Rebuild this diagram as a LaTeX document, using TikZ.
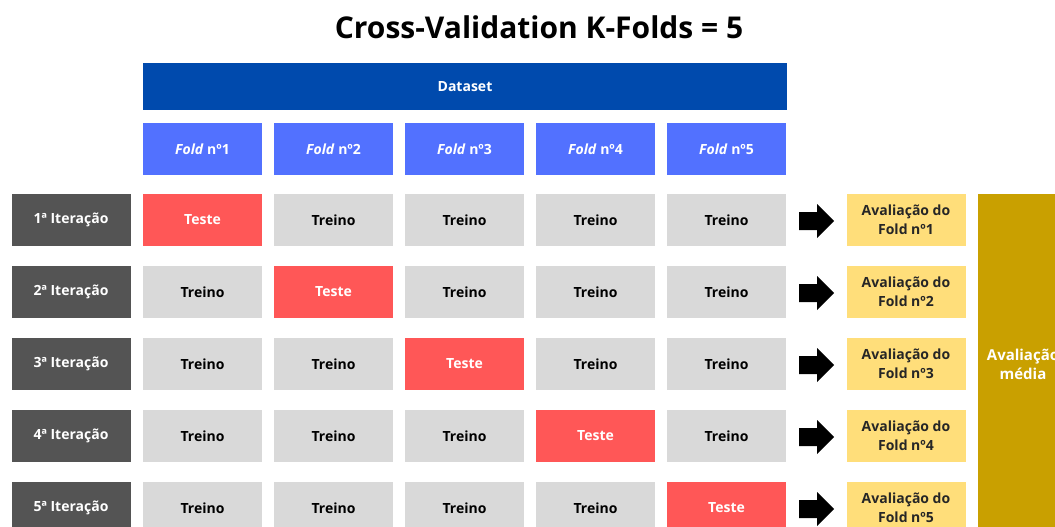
\documentclass[tikz,border=0pt]{standalone}
\usepackage{fontspec}
\setmainfont{Open Sans}
\definecolor{dsblue}{HTML}{004AAD}
\definecolor{foldblue}{HTML}{5271FF}
\definecolor{itergrey}{HTML}{545454}
\definecolor{treinogrey}{HTML}{D9D9D9}
\definecolor{testered}{HTML}{FF5757}
\definecolor{avalyellow}{HTML}{FFDE7A}
\definecolor{mediagold}{HTML}{C9A000}
\tikzset{
  cell/.style={inner sep=0pt, minimum width=119pt, minimum height=52pt, font=\fontsize{14}{16}\selectfont\bfseries, align=center},
  iterbox/.style={cell, fill=itergrey, text=white},
  treinobox/.style={cell, fill=treinogrey, text=black},
  testebox/.style={cell, fill=testered, text=white},
  foldbox/.style={cell, fill=foldblue, text=white},
  avalbox/.style={cell, fill=avalyellow, text=black!85, font=\fontsize{14}{19}\selectfont\bfseries},
  blockarrow/.pic={\fill[black] (-18,-9) -- (0,-9) -- (0,-17) -- (17,0) -- (0,17) -- (0,9) -- (-18,9) -- cycle;}
}
\begin{document}
\begin{tikzpicture}[x=1pt,y=-1pt]
\useasboundingbox (0,0) rectangle (1055,527);
\clip (0,0) rectangle (1055,527);
\node[font=\fontsize{30}{34}\selectfont\bfseries] (title) at (539,27) {Cross-Validation K-Folds = 5};
\node[cell, fill=dsblue, text=white, minimum width=644pt, minimum height=47pt] (dataset) at (465,86.5) {Dataset};
\foreach \i/\x in {1/202.5,2/333.5,3/464.5,4/595.5,5/726.5}{
  \node[foldbox] (fold\i) at (\x,149) {\textit{Fold} nº\i};
}
\node[fill=mediagold, inner sep=0pt, minimum width=88pt, minimum height=360pt, anchor=north west] (media) at (978,194) {};
\node[text=white, font=\fontsize{15}{19}\selectfont\bfseries, align=center] (mediatxt) at (1023,364) {Avaliação\\média};
\foreach \r/\y in {1/220,2/292,3/364,4/436,5/508}{
  \node[iterbox] (iter\r) at (71,\y) {\r ª Iteração};
  \foreach \c/\x in {1/202.5,2/333.5,3/464.5,4/595.5,5/726.5}{
    \ifnum\c=\r
      \node[testebox] (c\r\c) at (\x,\y) {Teste};
    \else
      \node[treinobox] (c\r\c) at (\x,\y) {Treino};
    \fi
  }
  \pic at (817,\y+1) {blockarrow};
  \node[avalbox] (aval\r) at (906,\y) {Avaliação do\\Fold nº\r};
}
\end{tikzpicture}
\end{document}
